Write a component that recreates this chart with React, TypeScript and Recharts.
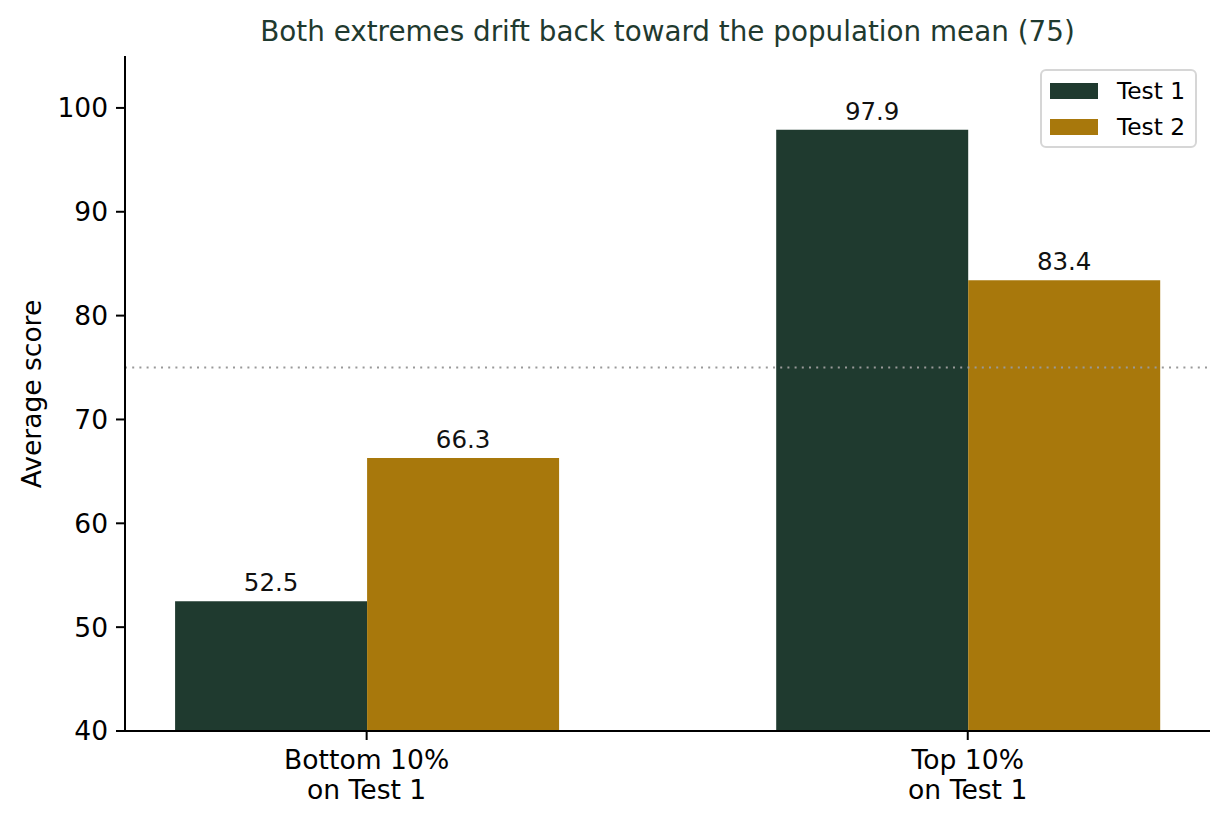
import React from 'react';
import { BarChart, Bar, XAxis, YAxis, ReferenceLine, LabelList, Legend } from 'recharts';

const categories = ['Bottom 10%\non Test 1', 'Top 10%\non Test 1'];
const test1 = [52.5, 97.9];
const test2 = [66.3, 83.4];
const yTicks = [40, 50, 60, 70, 80, 90, 100];
const xTicks = [0, 1];
const seriesNames = ['Test 1', 'Test 2'];
const populationMean = 75;

const C1 = '#1f3a2f';
const C2 = '#a8780c';
const FONT = '"DejaVu Sans", sans-serif';

const data = categories.map((c, i) => ({ x: i, name: c, test1: test1[i], test2: test2[i] }));

const XTick = (props: any) => {
  const { x, y, payload } = props;
  const lines = String(categories[payload.value] ?? '').split('\n');
  return (
    <text x={x} y={y} textAnchor="middle" fontSize={26.6} fill="#000" fontFamily={FONT}>
      {lines.map((l, i) => (
        <tspan key={i} x={x} dy={i === 0 ? 29 : 30}>{l}</tspan>
      ))}
    </text>
  );
};

const YLabel = () => (
  <text
    x={31}
    y={394}
    transform="rotate(-90 31 394)"
    textAnchor="middle"
    dominantBaseline="central"
    fontSize={26.5}
    fill="#000"
    fontFamily={FONT}
  >
    Average score
  </text>
);

const LegendBox = () => (
  <div
    style={{
      boxSizing: 'border-box',
      width: 157,
      height: 79,
      border: '2px solid #d6d6d6',
      borderRadius: 6,
      background: 'rgba(255,255,255,0.85)',
      position: 'relative',
      fontFamily: FONT,
    }}
  >
    {seriesNames.map((n, i) => (
      <div key={n} style={{ position: 'absolute', left: 8, top: 10 + i * 36, height: 20, display: 'flex', alignItems: 'center' }}>
        <div style={{ width: 48, height: 16, background: i === 0 ? C1 : C2 }} />
        <span style={{ marginLeft: 19, fontSize: 23.3, lineHeight: '20px', color: '#000' }}>{n}</span>
      </div>
    ))}
  </div>
);

export default function App() {
  return (
    <div style={{ position: 'absolute', left: 0, top: 0, width: 1228, height: 825, background: '#fff', fontFamily: FONT }}>
      <div
        style={{
          position: 'absolute',
          left: 125,
          width: 1085,
          top: 18,
          lineHeight: '28px',
          fontSize: 27.8,
          textAlign: 'center',
          color: '#1f3a2f',
          whiteSpace: 'nowrap',
        }}
      >
        Both extremes drift back toward the population mean (75)
      </div>
      <BarChart
        width={1228}
        height={825}
        data={data}
        margin={{ top: 56, right: 18, bottom: 0, left: 0 }}
        barGap={0}
        style={{ position: 'absolute', left: 0, top: 0 }}
      >
        <XAxis
          type="number"
          dataKey="x"
          domain={[-0.402, 1.403]}
          ticks={xTicks}
          allowDataOverflow
          interval={0}
          height={94}
          tickSize={9}
          tickMargin={0}
          tick={<XTick />}
          axisLine={{ stroke: '#000', strokeWidth: 2 }}
          tickLine={{ stroke: '#000', strokeWidth: 2 }}
        />
        <YAxis
          type="number"
          domain={[40, 105]}
          ticks={yTicks}
          allowDataOverflow
          interval={0}
          width={125}
          tickSize={9}
          tickMargin={8}
          tick={{ fontSize: 26.5, fill: '#000', fontFamily: FONT }}
          axisLine={{ stroke: '#000', strokeWidth: 2 }}
          tickLine={{ stroke: '#000', strokeWidth: 2 }}
          label={<YLabel />}
        />
        <Legend
          layout="horizontal"
          verticalAlign="middle"
          align="center"
          content={<LegendBox />}
          wrapperStyle={{ left: 1040, top: 69, width: 157, height: 79 }}
        />
        <Bar dataKey="test1" name={seriesNames[0]} fill={C1} barSize={192} isAnimationActive={false}>
          <LabelList dataKey="test1" position="top" offset={10} fill="#111" fontSize={24.5} fontFamily={FONT} formatter={(v: any) => Number(v).toFixed(1)} />
        </Bar>
        <Bar dataKey="test2" name={seriesNames[1]} fill={C2} barSize={192} isAnimationActive={false}>
          <LabelList dataKey="test2" position="top" offset={10} fill="#111" fontSize={24.5} fontFamily={FONT} formatter={(v: any) => Number(v).toFixed(1)} />
        </Bar>
        <ReferenceLine y={populationMean} stroke="#999999" strokeWidth={2} strokeDasharray="2 5.2" />
      </BarChart>
    </div>
  );
}
